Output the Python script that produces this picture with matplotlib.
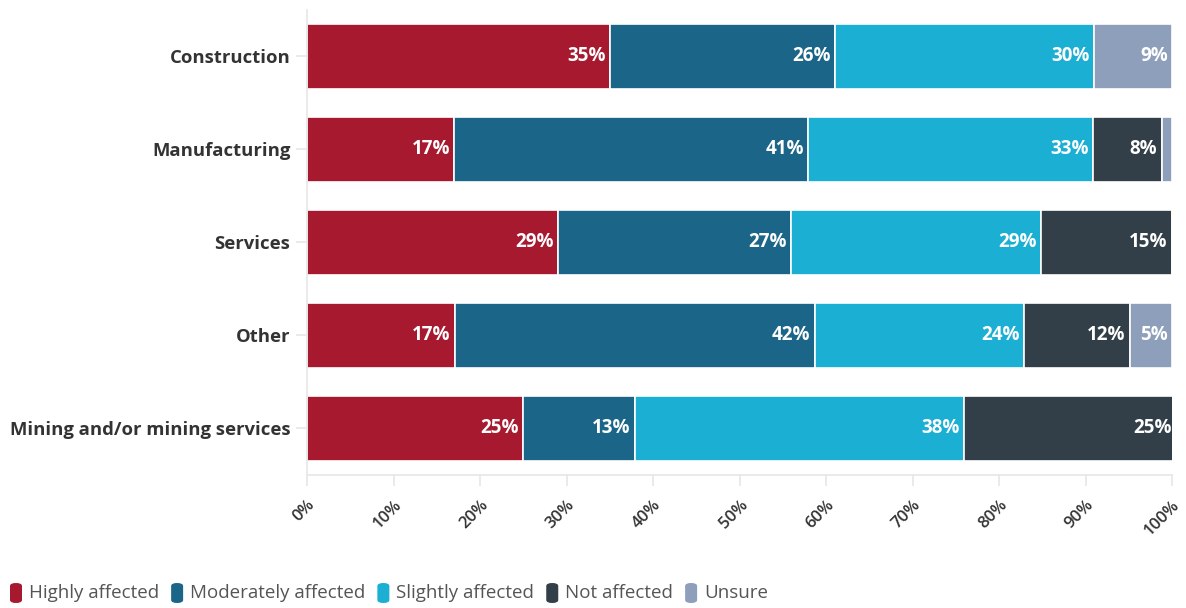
import numpy as np
import matplotlib.pyplot as plt
from matplotlib.patches import FancyBboxPatch
from matplotlib.ticker import FuncFormatter

plt.rcParams['font.family'] = ['Open Sans', 'DejaVu Sans']

sectors = ['Construction', 'Manufacturing', 'Services', 'Other',
           'Mining and/or mining services']
series = ['Highly affected', 'Moderately affected', 'Slightly affected',
          'Not affected', 'Unsure']
colors = ['#A6192E', '#1B6688', '#1BAFD4', '#333F48', '#8E9FBC']

highly = [35.0, 17.0, 29.0, 17.1, 25.0]
moderately = [26.0, 40.9, 26.9, 41.6, 12.9]
slightly = [30.0, 33.0, 29.0, 24.2, 38.0]
not_affected = [0.0, 7.9, 15.1, 12.2, 24.6]
unsure = [9.0, 1.2, 0.0, 4.9, 0.0]

data = np.array([highly, moderately, slightly, not_affected, unsure])

fig = plt.figure(figsize=(11.86, 6.08), dpi=100)
ax = fig.add_axes([0.2589, 0.2188, 0.7293, 0.7648])

y = np.arange(len(sectors))
left = np.zeros(len(sectors))
for i, name in enumerate(series):
    vals = data[i]
    ax.barh(y, vals, left=left, height=0.7, color=colors[i],
            edgecolor='white', linewidth=1.2, label=name)
    for j, v in enumerate(vals):
        if v >= 3:
            ax.annotate(f"{v:.0f}%", xy=(left[j] + v, y[j]), xytext=(-3, 0),
                        textcoords='offset points', ha='right', va='center',
                        color='white', fontsize=13.5, fontweight='bold',
                        annotation_clip=False)
    left += vals

ax.set_xlim(0, 100)
ax.set_ylim(4.5, -0.5)
ax.set_yticks(y)
ax.set_yticklabels(sectors, fontsize=13.3, fontweight='bold', color='#333333')
ax.set_xticks(np.arange(0, 101, 10))
ax.xaxis.set_major_formatter(FuncFormatter(lambda v, p: f"{v:.0f}%"))
plt.setp(ax.get_xticklabels(), rotation=45, ha='right',
         rotation_mode='anchor', fontsize=12, fontweight='semibold',
         color='#333333')

for s in ['top', 'right']:
    ax.spines[s].set_visible(False)
for s in ['left', 'bottom']:
    ax.spines[s].set_color('#e6e6e6')
    ax.spines[s].set_linewidth(1.2)
ax.tick_params(axis='x', length=8, color='#e6e6e6', width=1.2, pad=8)
ax.tick_params(axis='y', length=8, color='#e6e6e6', width=1.2, pad=4)

# legend with rounded markers
lx = 10
for i, name in enumerate(series):
    x0 = lx / 1186
    fig.patches.append(FancyBboxPatch((x0, 1 - 603 / 608), 12 / 1186, 20 / 608,
                                      boxstyle='round,pad=0,rounding_size=0.005',
                                      transform=fig.transFigure,
                                      facecolor=colors[i], edgecolor='none'))
    t = fig.text((lx + 19) / 1186, 1 - 593 / 608, name, fontsize=13.5,
                 color='#555555', va='center', ha='left')
    fig.canvas.draw()
    bb = t.get_window_extent()
    lx = bb.x1 + 12

fig.savefig('out.png', dpi=100)
